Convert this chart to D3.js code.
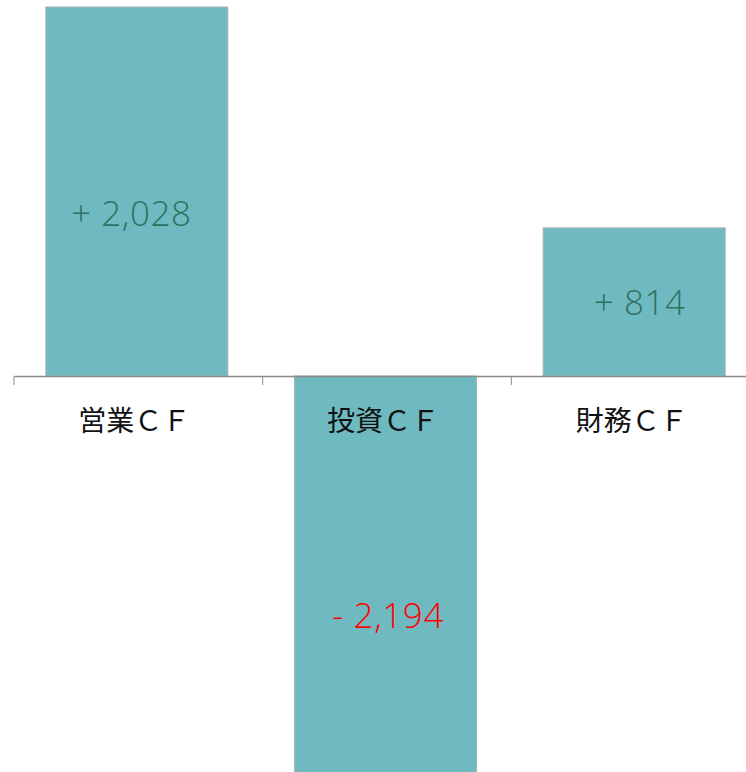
<!DOCTYPE html>
<html><head><meta charset="utf-8">
<script src="https://cdn.jsdelivr.net/npm/d3@7"></script>
<style>html,body{margin:0;padding:0;background:#fff;overflow:hidden}</style>
</head><body>
<svg id="c" width="746" height="772"></svg>
<script>
const categories = ["営業ＣＦ", "投資ＣＦ", "財務ＣＦ"];
const values = [2028, -2194, 814];
const labels = ["+ 2,028", "- 2,194", "+ 814"];

const svg = d3.select("#c");
const zeroY = 376;
const x = d3.scaleBand().domain(categories).range([14, 758]).paddingInner(0.268).paddingOuter(0.13);
const y = d3.scaleLinear().domain([-2194, 2028]).range([zeroY + 2194 * 0.18195, zeroY - 2028 * 0.18195]);

svg.selectAll("rect.bar").data(values).enter().append("rect")
  .attr("class", "bar")
  .attr("x", (d, i) => x(categories[i]) - 0.5)
  .attr("y", d => y(Math.max(0, d)))
  .attr("width", x.bandwidth())
  .attr("height", d => Math.abs(y(d) - y(0)))
  .attr("fill", "#6fb9c0")
  .attr("stroke", "#a9b3b4")
  .attr("stroke-width", 1);

// axis
const ax = svg.append("g").attr("transform", `translate(0,${y(0)})`)
  .call(d3.axisBottom(x).tickSize(0).tickFormat(""));
ax.select(".domain").attr("stroke", "#8a8a8a").attr("stroke-width", 1.5);
const step = x.step();
const tickXs = [0, 1, 2, 3].map(i => 14 + i * step);
svg.selectAll("line.tk").data(tickXs).enter().append("line")
  .attr("x1", d => d).attr("x2", d => d)
  .attr("y1", y(0)).attr("y2", y(0) + 9)
  .attr("stroke", "#8a8a8a").attr("stroke-width", 1);

svg.selectAll("text.cat").data(categories).enter().append("text")
  .attr("class", "cat")
  .attr("x", d => x(d) + x.bandwidth() / 2 - 3)
  .attr("y", 431)
  .attr("text-anchor", "middle")
  .attr("font-family", "'Noto Sans CJK JP', sans-serif")
  .attr("font-size", 28)
  .attr("fill", "#111")
  .text(d => d);

// value labels
const labelFrac = [0.44, 0.6, 0.49];
const labelDx = [-6, 2, 5];
svg.selectAll("text.val").data(values).enter().append("text")
  .attr("class", "val")
  .attr("x", (d, i) => x(categories[i]) + x.bandwidth() / 2 + labelDx[i])
  .attr("y", (d, i) => y(d * labelFrac[i]) + 12)
  .attr("text-anchor", "middle")
  .attr("font-family", "'Open Sans', sans-serif")
  .attr("font-weight", 300)
  .attr("font-size", 35)
  .attr("letter-spacing", 0.6)
  .attr("fill", d => d < 0 ? "#ff0000" : "#2f7262")
  .text((d, i) => labels[i]);
</script>
</body></html>
